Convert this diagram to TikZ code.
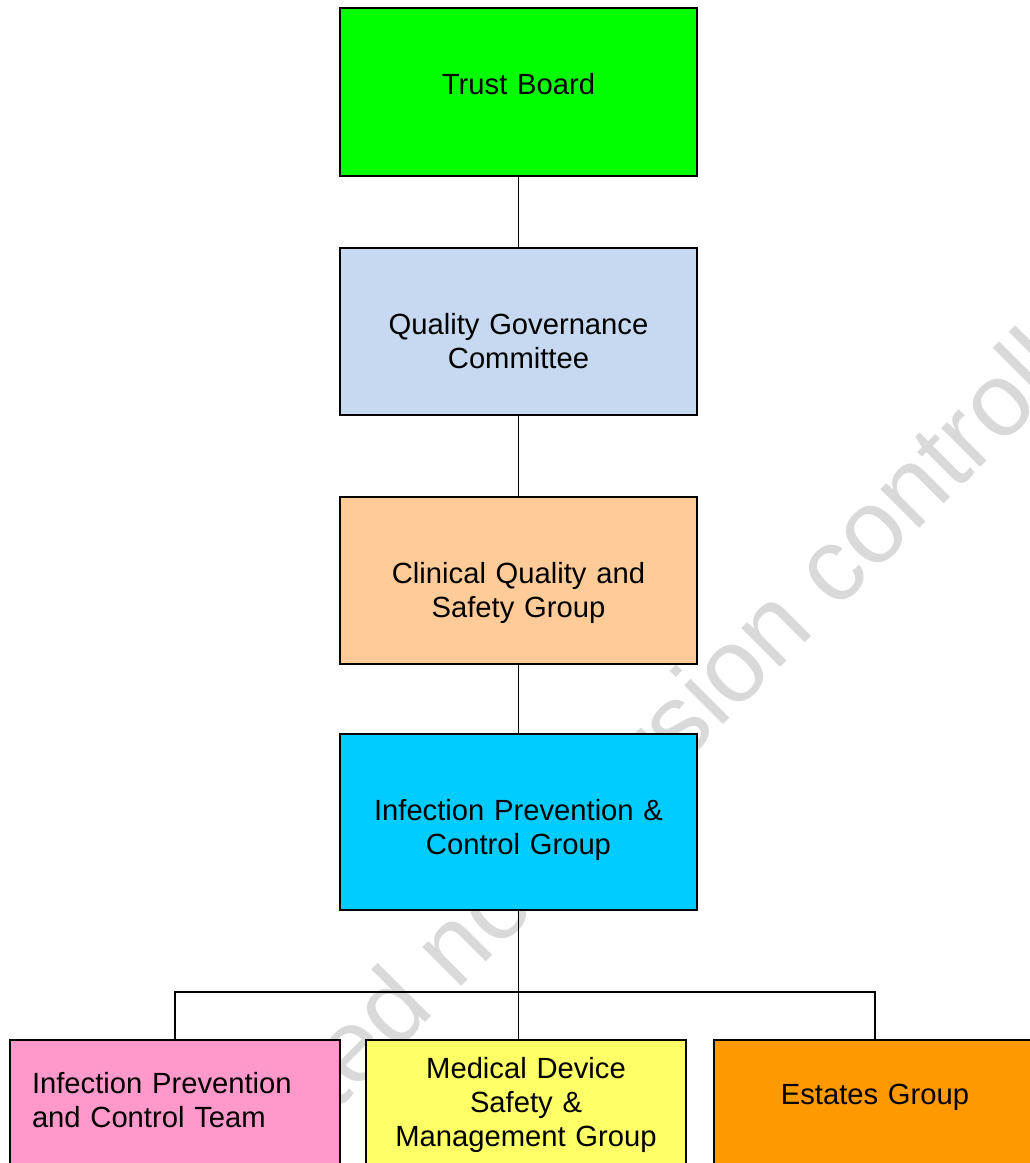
\documentclass[tikz,border=0pt]{standalone}
\usepackage{fontspec}
\setmainfont{Liberation Sans}
\usetikzlibrary{positioning}
\definecolor{tbgreen}{HTML}{00FF00}
\definecolor{qgblue}{HTML}{C6D9F1}
\definecolor{cqpeach}{HTML}{FFCC99}
\definecolor{ipcyan}{HTML}{00CCFF}
\definecolor{ippink}{HTML}{FF99CC}
\definecolor{mdyellow}{HTML}{FFFF66}
\definecolor{esorange}{HTML}{FF9900}
\newcommand{\orgfont}{\fontsize{29.2}{34}\selectfont}

\begin{document}
\begin{tikzpicture}[x=1pt,y=-1pt,
      unit/.style={draw=black,line width=1.6pt,inner sep=0pt,outer sep=0pt,text width=357pt,align=center,text height=86pt,font=\orgfont},
      link/.style={line width=1.6pt,draw=black},
      wmark/.style={text=black!15,inner sep=0pt,font=\fontsize{104}{104}\selectfont}]
    \useasboundingbox (0,0) rectangle (1030,1163);
    \clip (0,0) rectangle (1030,1163);
    \node[wmark,rotate=45,anchor=base east] (wm) at (1156,292) {When printed not version controlled};
    \node[unit,fill=tbgreen,text depth=82pt,anchor=north] (tb) at (518.5,8) {Trust Board};
    \node[unit,fill=qgblue,text depth=81pt,below=72pt of tb] (qgc) {Quality Governance\\Committee};
    \node[unit,fill=cqpeach,text depth=81pt,below=82pt of qgc] (cqsg) {Clinical Quality and\\Safety Group};
    \node[unit,fill=ipcyan,text depth=90pt,below=70pt of cqsg] (ipcg) {Infection Prevention \&\\Control Group};
    \node[unit,fill=mdyellow,text width=320pt,text height=38pt,text depth=200pt,below=130pt of ipcg,xshift=7.5pt] (mdsm)
      {Medical Device\\Safety \&\\Management Group};
    \node[unit,fill=ippink,text width=286pt,inner xsep=22pt,align=left,text height=53pt,text depth=200pt,anchor=north east] (ipct)
      at ([xshift=-26pt]mdsm.north west) {Infection Prevention\\and Control Team};
    \node[unit,fill=esorange,text width=322pt,text height=64pt,text depth=200pt,anchor=north west] (esg)
      at ([xshift=28pt]mdsm.north east) {Estates Group};
    \draw[link] (tb) -- (qgc);
    \draw[link] (qgc) -- (cqsg);
    \draw[link] (cqsg) -- (ipcg);
    \coordinate (bus) at ([yshift=-82pt]ipcg.south);
    \draw[link] (ipcg.south) -- (ipcg.south |- mdsm.north);
    \draw[link] (ipct.north) |- (bus) -| (esg.north);
  \end{tikzpicture}
\end{document}
